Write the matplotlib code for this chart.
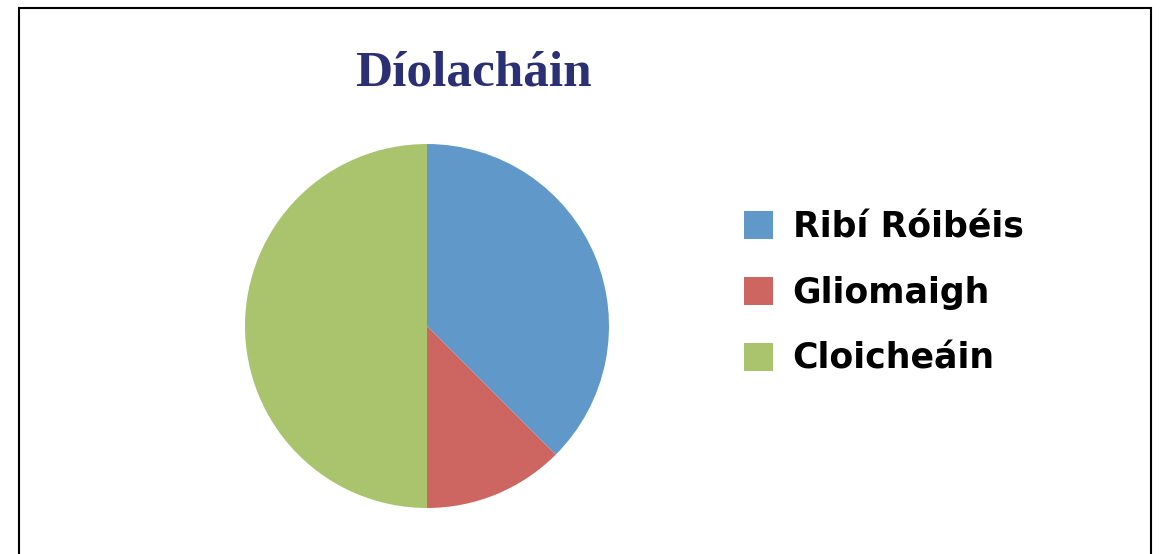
import matplotlib
matplotlib.use('Agg')
import matplotlib.pyplot as plt
from matplotlib.patches import Rectangle, Patch

# sales share (135 deg, 45 deg, 180 deg)
labels = ['Ribí Róibéis', 'Gliomaigh', 'Cloicheáin']
values = [3, 1, 4]
colors = ['#6198CA', '#CD6660', '#AAC46E']
title = 'Díolacháin'

fig = plt.figure(figsize=(11.6, 5.54), dpi=100)

# chart frame, bottom runs off the picture
fig.patches.append(Rectangle((19 / 1160, -0.05), 1132 / 1160, 1.05 - 8 / 554,
                             transform=fig.transFigure, fill=False,
                             edgecolor='black', linewidth=1.5))

ax = fig.add_axes([245 / 1160, 46 / 554, 364 / 1160, 364 / 554])
ax.pie(values, colors=colors, startangle=90, counterclock=False,
       radius=1, wedgeprops=dict(linewidth=0))
ax.set_xlim(-1, 1)
ax.set_ylim(-1, 1)
ax.set_aspect('equal')
ax.axis('off')

fig.text(473 / 1160, 1 - 73 / 554, title, ha='center', va='center',
         fontsize=37, fontweight='bold', family='Liberation Serif',
         color='#2B3075')

handles = [Patch(facecolor=c, edgecolor='none') for c in colors]
fig.legend(handles, labels, loc='center left',
           bbox_to_anchor=(713 / 1160, 1 - 293 / 554), frameon=False,
           prop=dict(family='DejaVu Sans', weight='bold', size=25),
           handlelength=0.84, handleheight=0.84, handletextpad=0.55,
           labelspacing=0.92)

fig.savefig('out.png', dpi=100)
